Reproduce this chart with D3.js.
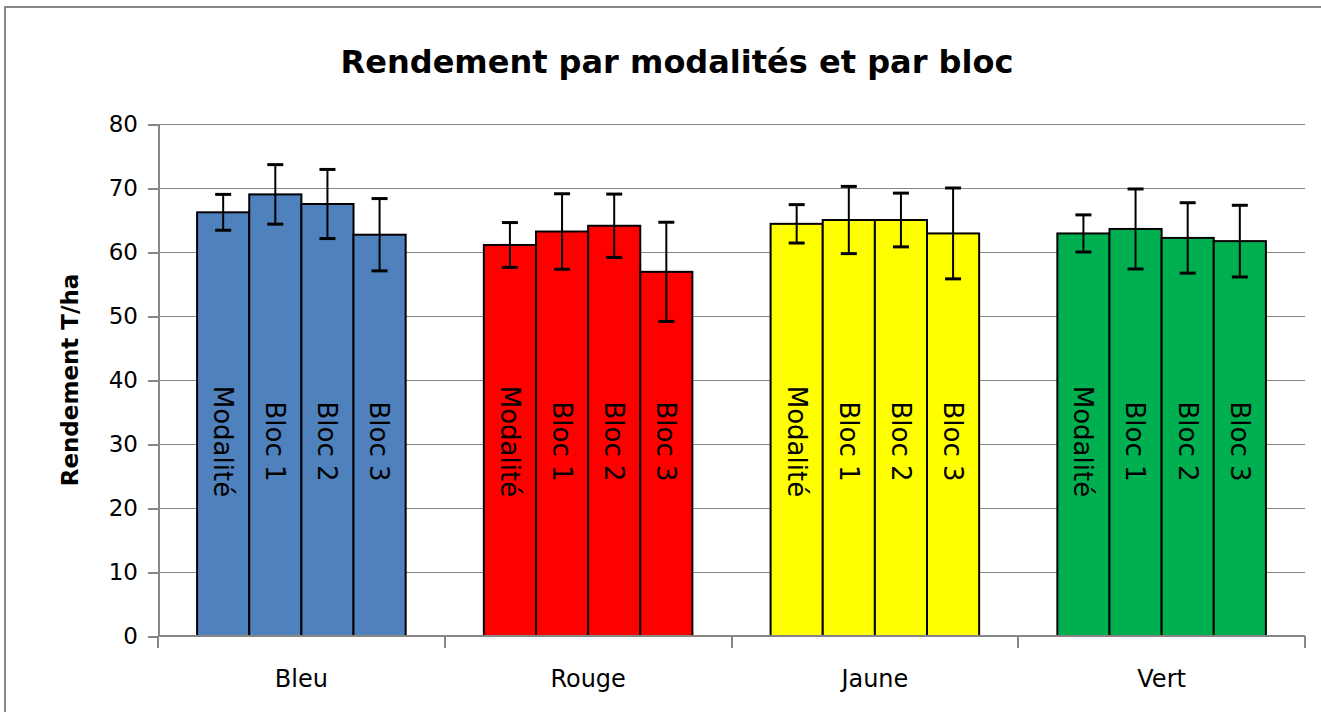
<!DOCTYPE html>
<meta charset="utf-8">
<style>
body { margin: 0; background: #fff; }
text { font-family: "DejaVu Sans", sans-serif; fill: #000; }
.grid line { stroke: #868686; stroke-width: 1.5px; shape-rendering: crispEdges; }
.grid path { stroke-width: 0; }
.axis path, .axis line { stroke: #868686; stroke-width: 2px; shape-rendering: crispEdges; }
.bar { stroke: #000; stroke-width: 2px; }
.err { stroke: #000; stroke-width: 2px; }
</style>
<body>
<script src="https://d3js.org/d3.v7.min.js"></script>
<script>
// data
var categories = ["Bleu", "Rouge", "Jaune", "Vert"];
var series = ["Modalité", "Bloc 1", "Bloc 2", "Bloc 3"];
var colors = ["#4F81BD", "#FF0000", "#FFFF00", "#00B050"];

var bleu  = [66.2, 69.0, 67.5, 62.7];
var rouge = [61.1, 63.2, 64.1, 56.9];
var jaune = [64.4, 65.0, 65.0, 62.9];
var vert  = [62.9, 63.6, 62.2, 61.7];

var bleuErr  = [2.8, 4.65, 5.4, 5.65];
var rougeErr = [3.5, 5.9, 4.95, 7.75];
var jauneErr = [3.0, 5.25, 4.2, 7.1];
var vertErr  = [2.9, 6.25, 5.5, 5.6];

var yTicks = [0, 10, 20, 30, 40, 50, 60, 70, 80];

var values = [bleu, rouge, jaune, vert];
var errors = [bleuErr, rougeErr, jauneErr, vertErr];

// dimensions
var W = 1321, H = 712;
var margin = {top: 124, right: 16, bottom: 76, left: 158},
    width = W - margin.left - margin.right,
    height = H - margin.top - margin.bottom;

var svg = d3.select("body").append("svg")
    .attr("width", W)
    .attr("height", H);

// outer chart border
svg.append("rect")
    .attr("x", 5).attr("y", 7)
    .attr("width", W + 20).attr("height", H + 20)
    .attr("fill", "none")
    .attr("stroke", "#868686")
    .attr("stroke-width", 2);

var g = svg.append("g")
    .attr("transform", "translate(" + margin.left + "," + margin.top + ")");

// scales
var x0 = d3.scaleBand().domain(categories).range([0, width]).paddingInner(0).paddingOuter(0);
// 4 bars + 150% gap per category
var x1 = d3.scaleBand().domain(series)
    .range([x0.bandwidth() * 0.75 / 5.5, x0.bandwidth() - x0.bandwidth() * 0.75 / 5.5]);
var y = d3.scaleLinear().domain([0, 80]).range([height, 0]);

// y gridlines
g.append("g")
    .attr("class", "grid")
    .call(d3.axisLeft(y).tickValues(yTicks).tickSize(-width).tickFormat(""));

// y axis
var ya = g.append("g")
    .attr("class", "axis")
    .call(d3.axisLeft(y).tickValues(yTicks).tickSize(10).tickSizeOuter(0).tickPadding(10));
ya.selectAll("text").style("font-size", "23px").attr("font-family", "DejaVu Sans");

// bars
var groups = g.selectAll(".cat")
    .data(categories)
  .enter().append("g")
    .attr("class", "cat")
    .attr("transform", function(d) { return "translate(" + x0(d) + ",0)"; });

groups.each(function(c, ci) {
  var grp = d3.select(this);
  var rows = series.map(function(s, si) {
    return {s: s, v: values[ci][si], e: errors[ci][si]};
  });

  grp.selectAll("rect")
      .data(rows)
    .enter().append("rect")
      .attr("class", "bar")
      .attr("x", function(d) { return x1(d.s); })
      .attr("y", function(d) { return y(d.v); })
      .attr("width", x1.bandwidth())
      .attr("height", function(d) { return height - y(d.v); })
      .attr("fill", colors[ci]);

  // labels inside bars
  grp.selectAll("text.lbl")
      .data(rows)
    .enter().append("text")
      .attr("class", "lbl")
      .attr("transform", function(d) {
        return "translate(" + (x1(d.s) + x1.bandwidth() / 2) + "," + y(30.4) + ") rotate(90)";
      })
      .attr("text-anchor", "middle")
      .attr("dy", "0.35em")
      .style("font-size", "26px")
      .text(function(d) { return d.s; });

  // error bars
  var eb = grp.selectAll("g.eb")
      .data(rows)
    .enter().append("g")
      .attr("class", "eb");
  eb.append("line").attr("class", "err")
      .attr("x1", function(d) { return x1(d.s) + x1.bandwidth() / 2; })
      .attr("x2", function(d) { return x1(d.s) + x1.bandwidth() / 2; })
      .attr("y1", function(d) { return y(d.v + d.e); })
      .attr("y2", function(d) { return y(d.v - d.e); });
  [1, -1].forEach(function(sgn) {
    eb.append("line").attr("class", "err")
        .attr("x1", function(d) { return x1(d.s) + x1.bandwidth() / 2 - 8; })
        .attr("x2", function(d) { return x1(d.s) + x1.bandwidth() / 2 + 8; })
        .attr("y1", function(d) { return y(d.v + sgn * d.e); })
        .attr("y2", function(d) { return y(d.v + sgn * d.e); })
        .style("stroke-width", "3px");
  });
});

// x axis: line with tick marks at category boundaries
var xa = g.append("g")
    .attr("class", "axis")
    .attr("transform", "translate(0," + height + ")");
xa.append("line")
    .attr("x1", 0).attr("x2", width)
    .attr("y1", 0).attr("y2", 0);
xa.selectAll("line.tk")
    .data(categories.concat(["end"]))
  .enter().append("line")
    .attr("class", "tk")
    .attr("x1", function(d, i) { return i < categories.length ? x0(d) : width; })
    .attr("x2", function(d, i) { return i < categories.length ? x0(d) : width; })
    .attr("y1", 0).attr("y2", 12);
xa.selectAll("text")
    .data(categories)
  .enter().append("text")
    .attr("x", function(d) { return x0(d) + x0.bandwidth() / 2; })
    .attr("y", 51)
    .attr("text-anchor", "middle")
    .style("font-size", "24px")
    .text(function(d) { return d; });

// y axis title
svg.append("text")
    .attr("transform", "translate(78,380) rotate(-90)")
    .attr("text-anchor", "middle")
    .style("font-size", "23px")
    .style("font-weight", "bold")
    .text("Rendement T/ha");

// chart title
svg.append("text")
    .attr("x", 677)
    .attr("y", 73)
    .attr("text-anchor", "middle")
    .style("font-size", "32px")
    .style("font-weight", "bold")
    .text("Rendement par modalités et par bloc");
</script>
</body>
